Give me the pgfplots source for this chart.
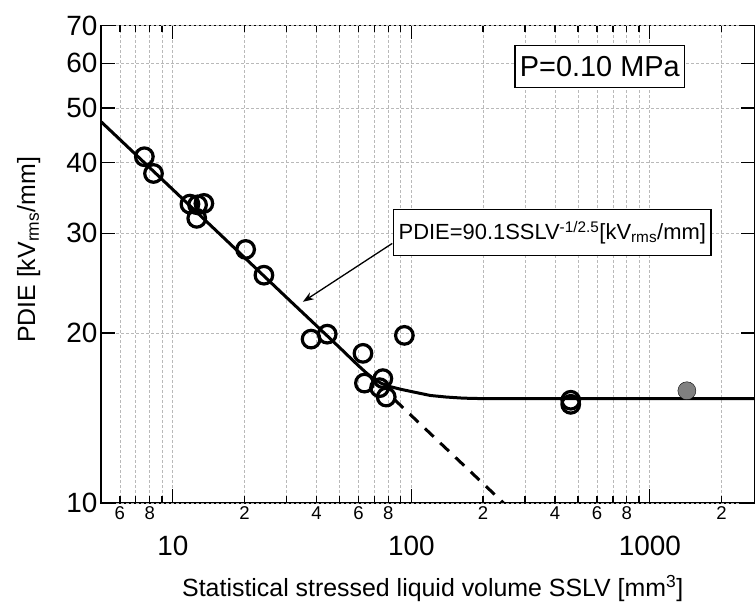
\documentclass[border=0pt]{standalone}
\usepackage{pgfplots}
\pgfplotsset{compat=1.18}
\usepackage{fontspec}
\setmainfont{Liberation Sans}
\usetikzlibrary{arrows.meta}
\definecolor{gridgray}{RGB}{185,185,185}
\definecolor{ptgray}{RGB}{128,128,128}
\newcommand{\dec}[1]{\vbox{\vskip30bp\hbox{#1}}}
\begin{document}
\begin{tikzpicture}[x=1bp,y=1bp]
\useasboundingbox (0,0) rectangle (756,603);
\begin{axis}[
  at={(101bp,100bp)}, anchor=south west,
  width=653.6bp, height=477.5bp, scale only axis,
  xmode=log, ymode=log,
  xmin=5, xmax=2750, ymin=10, ymax=70,
  /pgf/number format/assume math mode=true,
  axis line style={line width=1.3bp},
  every tick/.style={black, line width=1.3bp},
  tick align=inside,
  major tick length=7bp,
  xtick={6,7,8,9,20,30,40,50,60,70,80,90,200,300,400,500,600,700,800,900,2000},
  xticklabels={6,,8,,2,,4,,6,,8,,2,,4,,6,,8,,2},
  x tick label style={font=\fontsize{18.6}{20}\selectfont},
  extra x ticks={10,100,1000},
  extra x tick labels={\dec{10},\dec{100},\dec{1000}},
  extra x tick style={major tick length=14bp, x tick label style={font=\fontsize{28}{30}\selectfont}},
  ytick=\empty,
  extra y ticks={10,20,30,40,50,60,70},
  extra y tick labels={10,20,30,40,50,60,70},
  extra y tick style={major tick length=14bp, y tick label style={font=\fontsize{28}{30}\selectfont}},
  minor xtick={}, minor ytick={},
  grid=major,
  major grid style={gridgray, line width=0.7bp, dash pattern=on 3bp off 2bp},
  xlabel={Statistical stressed liquid volume SSLV [mm\textsuperscript{3}]},
  ylabel={PDIE [kV\textsubscript{rms}/mm]},
  xlabel style={at={(axis description cs:0.5076,-0.1948)}, anchor=base, font=\fontsize{25}{26}\selectfont},
  ylabel style={at={(axis description cs:-0.1009,0.5298)}, anchor=base, font=\fontsize{25}{26}\selectfont},
]
% fitted curve (power law then plateau)
\addplot[black, line width=3bp, no markers] coordinates {
(5,47.3) (10,35.87) (20,27.18) (30,23.1) (40,20.6) (50,18.85) (60,17.5) (65,16.97)
(70,16.55) (75,16.28) (80,16.1) (90,15.9) (100,15.75) (120,15.5) (140,15.4)
(165,15.33) (200,15.3) (400,15.3) (2750,15.3)
};
% extrapolated power law (dashed)
\addplot[black, line width=3bp, dash pattern=on 12bp off 9bp, no markers] coordinates {
(85,15.24) (243.7,10)
};
% measured data
\addplot[only marks, mark=o, mark size=8.8bp, black, mark options={line width=3.2bp}] coordinates {
(7.6,41.0) (8.3,38.3) (11.8,33.8) (12.7,33.7) (12.6,31.9) (13.5,33.9)
(20.2,28.1) (24.1,25.3) (38.0,19.5) (44.4,19.9) (62.7,18.4) (63.6,16.3)
(76,16.6) (73.6,16.0) (78.5,15.4) (93.5,19.8) (466,15.2) (466,14.95)
};
% gray filled point
\addplot[only marks, mark=*, mark size=9bp, mark options={draw=none, fill=ptgray}] coordinates {
(1430,15.8)
};
\draw[line width=1.3bp, -{Stealth[length=11bp,width=8bp]}] (axis cs:83.2,28.8) -- (axis cs:35.1,22.7);
\node[draw, line width=1.3bp, fill=white, font=\fontsize{29}{30}\selectfont, inner xsep=5bp, inner ysep=0bp, minimum height=42bp] at (axis cs:617,59.2) {P=0.10 MPa};
\node[draw, line width=1.3bp, fill=white, font=\fontsize{22}{24}\selectfont, inner xsep=5bp, inner ysep=0bp, minimum height=46bp] at (axis cs:390,30.07) {PDIE=90.1SSLV\textsuperscript{-1/2.5}[kV\textsubscript{rms}/mm]};
\end{axis}
\end{tikzpicture}
\end{document}
